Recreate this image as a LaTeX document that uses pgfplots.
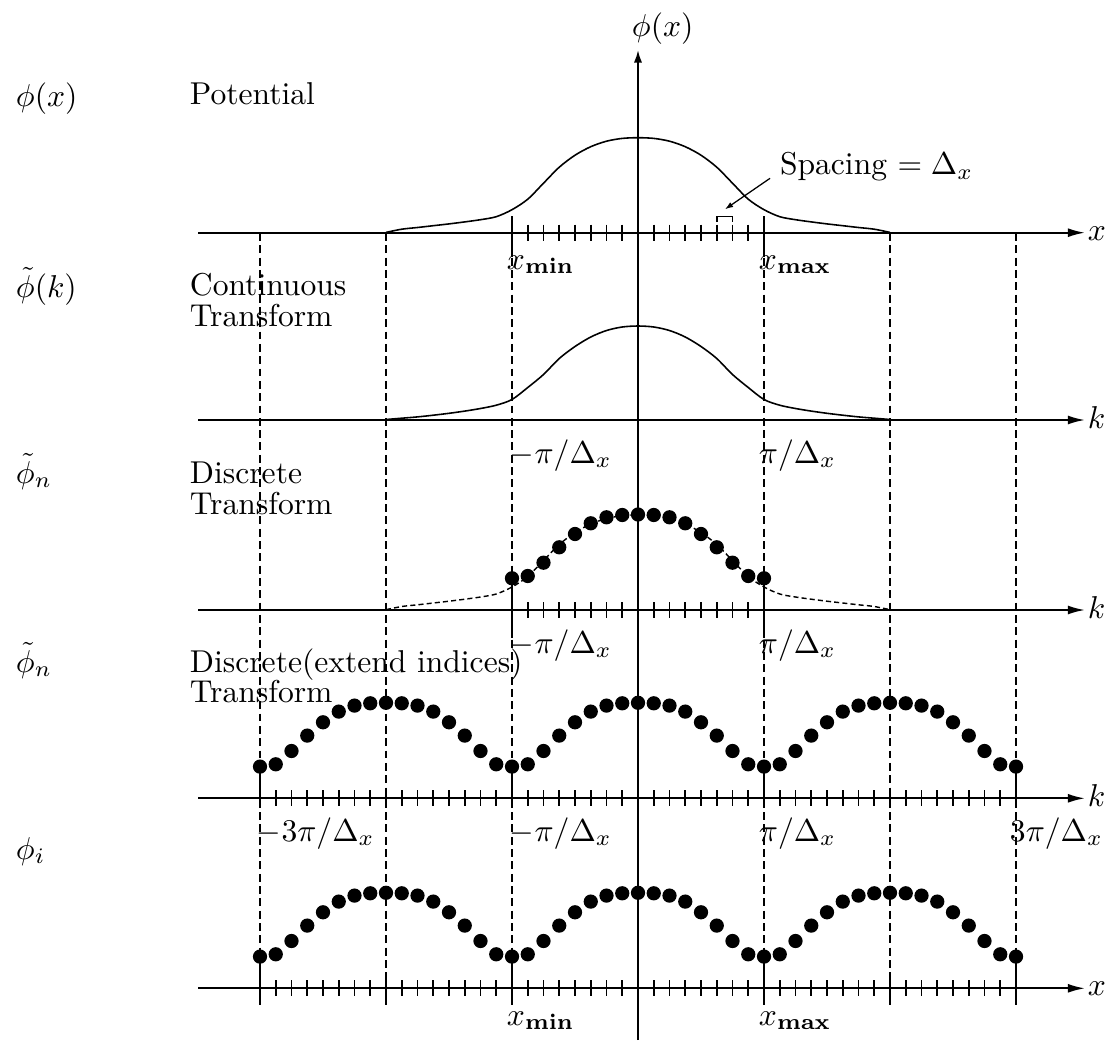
\documentclass[border=0pt]{standalone}
\usepackage{pgfplots}
\usepackage{pgfplotstable}
\pgfplotsset{compat=1.18}
\usetikzlibrary{arrows.meta}
\tikzset{lab/.style={anchor=base west, inner sep=0pt, outer sep=0pt}}

% continuous curve, row 1 (potential) and row 3 (dashed)
\pgfplotstableread{
u h
-2.000 0.3
-1.875 3.5
-1.750 5.2
-1.625 7.0
-1.500 8.8
-1.375 10.8
-1.250 13.0
-1.125 16.0
-1.000 23.0
-0.875 33.5
-0.750 49.5
-0.625 65.5
-0.500 77.5
-0.375 86.0
-0.250 91.5
-0.125 94.3
0.000 95.0
0.125 94.3
0.250 91.5
0.375 86.0
0.500 77.5
0.625 65.5
0.750 49.5
0.875 33.5
1.000 23.0
1.125 16.0
1.250 13.0
1.375 10.8
1.500 8.8
1.625 7.0
1.750 5.2
1.875 3.5
2.000 0.3
}\curveA

% continuous transform, row 2
\pgfplotstableread{
u h
-2.000 0.5
-1.875 1.8
-1.750 3.1
-1.625 4.8
-1.500 6.7
-1.375 8.9
-1.250 11.5
-1.125 14.8
-1.000 20.5
-0.875 32.5
-0.750 45.5
-0.625 61.5
-0.500 73.5
-0.375 83.0
-0.250 89.5
-0.125 93.0
0.000 94.0
0.125 93.0
0.250 89.5
0.375 83.0
0.500 73.5
0.625 61.5
0.750 45.5
0.875 32.5
1.000 20.5
1.125 14.8
1.250 11.5
1.375 8.9
1.500 6.7
1.625 4.8
1.750 3.1
1.875 1.8
2.000 0.5
}\curveB

% discrete transform, row 3
\pgfplotstableread{
u h
-1.000 31.7
-0.875 34.0
-0.750 47.3
-0.625 62.7
-0.500 76.0
-0.375 86.7
-0.250 92.7
-0.125 95.0
0.000 95.5
0.125 95.0
0.250 92.7
0.375 86.7
0.500 76.0
0.625 62.7
0.750 47.3
0.875 34.0
1.000 31.7
}\dotsA

% extended indices, rows 4 and 5
\pgfplotstableread{
u h
-3.000 31.7
-2.875 34.0
-2.750 47.3
-2.625 62.7
-2.500 76.0
-2.375 86.7
-2.250 92.7
-2.125 95.0
-2.000 95.5
-1.875 95.0
-1.750 92.7
-1.625 86.7
-1.500 76.0
-1.375 62.7
-1.250 47.3
-1.125 34.0
-1.000 31.7
-0.875 34.0
-0.750 47.3
-0.625 62.7
-0.500 76.0
-0.375 86.7
-0.250 92.7
-0.125 95.0
0.000 95.5
0.125 95.0
0.250 92.7
0.375 86.7
0.500 76.0
0.625 62.7
0.750 47.3
0.875 34.0
1.000 31.7
1.125 34.0
1.250 47.3
1.375 62.7
1.500 76.0
1.625 86.7
1.750 92.7
1.875 95.0
2.000 95.5
2.125 95.0
2.250 92.7
2.375 86.7
2.500 76.0
2.625 62.7
2.750 47.3
2.875 34.0
3.000 31.7
}\dotsB

\begin{document}
\begin{tikzpicture}
\begin{axis}[
  scale only axis, width=350.05pt, height=329.16pt,
  xmin=-5.06349, xmax=3.71429, ymin=0, ymax=1040, y dir=reverse,
  hide axis, clip=false,
]
% dashed vertical guide lines
\pgfplotsinvokeforeach{-3,-2,-1,1,2,3}{
  \draw[line width=0.4pt, dash pattern=on 2.5pt off 1.4pt] (axis cs:#1,233) -- (axis cs:#1,1005);
}
% vertical axis
\draw[line width=0.6pt, -{Latex[length=4pt,width=2.6pt]}] (axis cs:0,1040) -- (axis cs:0,50);
% horizontal axes
\pgfplotsinvokeforeach{232.7,420,610,798.3,988.3}{
  \draw[line width=0.6pt, -{Latex[length=5.4pt,width=2.8pt]}] (axis cs:-3.492,#1) -- (axis cs:3.548,#1);
}
% small ticks
\pgfplotsinvokeforeach{-0.875,-0.75,...,0.875}{
  \draw[line width=0.5pt] (axis cs:#1,224.7) -- (axis cs:#1,240.7);
  \draw[line width=0.5pt] (axis cs:#1,602) -- (axis cs:#1,618);
}
\pgfplotsinvokeforeach{-3,-2.875,...,3}{
  \draw[line width=0.5pt] (axis cs:#1,790.3) -- (axis cs:#1,806.3);
  \draw[line width=0.5pt] (axis cs:#1,980.3) -- (axis cs:#1,996.3);
}
% major ticks
\pgfplotsinvokeforeach{-1,1}{
  \draw[line width=0.5pt] (axis cs:#1,216) -- (axis cs:#1,257);
  \draw[line width=0.5pt] (axis cs:#1,578) -- (axis cs:#1,638);
}
\pgfplotsinvokeforeach{-3,-1,1,3}{
  \draw[line width=0.5pt] (axis cs:#1,768) -- (axis cs:#1,808);
  \draw[line width=0.5pt] (axis cs:#1,957) -- (axis cs:#1,1005);
}
\pgfplotsinvokeforeach{-2,2}{
  \draw[line width=0.5pt] (axis cs:#1,790) -- (axis cs:#1,808);
  \draw[line width=0.5pt] (axis cs:#1,980) -- (axis cs:#1,1005);
}

% curves
\addplot[black, line width=0.5pt, smooth, tension=0.5] table[x=u, y expr=232.7-\thisrow{h}] {\curveA};
\addplot[black, line width=0.5pt, smooth, tension=0.5] table[x=u, y expr=420-\thisrow{h}] {\curveB};
\addplot[black, line width=0.45pt, smooth, tension=0.5, dash pattern=on 1.6pt off 1pt] table[x=u, y expr=610-\thisrow{h}] {\curveA};
% dots
\addplot[only marks, mark=*, mark size=2.05pt, black] table[x=u, y expr=610-\thisrow{h}] {\dotsA};
\addplot[only marks, mark=*, mark size=2.05pt, black] table[x=u, y expr=798.3-\thisrow{h}] {\dotsB};
\addplot[only marks, mark=*, mark size=2.05pt, black] table[x=u, y expr=988.3-\thisrow{h}] {\dotsB};

% spacing annotation
\draw[line width=0.4pt, -{Latex[length=2.6pt,width=1.8pt]}] (axis cs:1.048,178.3) -- (axis cs:0.690,209.3);
\draw[line width=0.5pt] (axis cs:0.625,222) -- (axis cs:0.625,216.7) -- (axis cs:0.75,216.7) -- (axis cs:0.75,222);
\node[lab] at (axis cs:1.127,175) {Spacing $=\Delta_x$};

% axis labels
\node[lab] at (axis cs:-0.048,37) {$\phi(x)$};
\node[lab] at (axis cs:3.571,240) {$x$};
\node[lab] at (axis cs:3.571,428) {$k$};
\node[lab] at (axis cs:3.571,618) {$k$};
\node[lab] at (axis cs:3.571,806.5) {$k$};
\node[lab] at (axis cs:3.571,995.5) {$x$};

% tick labels
\node[lab] at (axis cs:-1.040,269) {$x_{\mathbf{min}}$};
\node[lab] at (axis cs:0.960,269) {$x_{\mathbf{max}}$};
\node[lab] at (axis cs:-1.016,463) {$-\pi/\Delta_x$};
\node[lab] at (axis cs:0.960,463) {$\pi/\Delta_x$};
\node[lab] at (axis cs:-1.016,653) {$-\pi/\Delta_x$};
\node[lab] at (axis cs:0.960,653) {$\pi/\Delta_x$};
\node[lab] at (axis cs:-3.024,841) {$-3\pi/\Delta_x$};
\node[lab] at (axis cs:-1.016,841) {$-\pi/\Delta_x$};
\node[lab] at (axis cs:0.960,841) {$\pi/\Delta_x$};
\node[lab] at (axis cs:2.952,841) {$3\pi/\Delta_x$};
\node[lab] at (axis cs:-1.040,1025) {$x_{\mathbf{min}}$};
\node[lab] at (axis cs:0.960,1025) {$x_{\mathbf{max}}$};

% row labels
\node[lab] at (axis cs:-4.937,107) {$\phi(x)$};
\node[lab] at (axis cs:-3.556,105) {Potential};
\node[lab] at (axis cs:-4.937,297) {$\tilde\phi(k)$};
\node[lab] at (axis cs:-3.556,295) {Continuous};
\node[lab] at (axis cs:-3.556,326) {Transform};
\node[lab] at (axis cs:-4.937,483) {$\tilde\phi_n$};
\node[lab] at (axis cs:-3.556,483) {Discrete};
\node[lab] at (axis cs:-3.556,514) {Transform};
\node[lab] at (axis cs:-4.937,672) {$\tilde\phi_n$};
\node[lab] at (axis cs:-3.556,672) {Discrete(extend indices)};
\node[lab] at (axis cs:-3.556,702) {Transform};
\node[lab] at (axis cs:-4.937,859) {$\phi_i$};
\end{axis}
\pgfresetboundingbox
\path (0,0) rectangle (350.05pt,329.16pt);
\end{tikzpicture}
\end{document}
